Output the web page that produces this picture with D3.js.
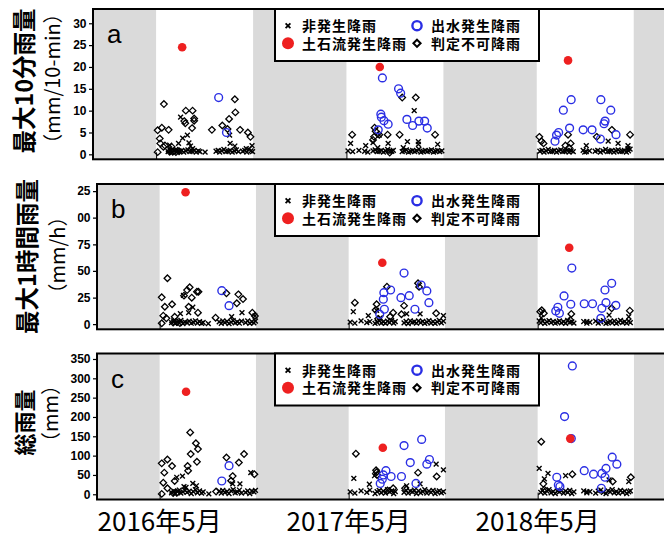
<!DOCTYPE html>
<html>
<head>
<meta charset="utf-8">
<script src="https://cdn.jsdelivr.net/npm/d3@7"></script>
<style>
  body { margin: 0; background: #fff; }
  svg { display: block; }
</style>
</head>
<body>
<div id="chart"></div>
<script>
// ---------- data ----------
var xLabels = ["2016年5月", "2017年5月", "2018年5月"];
var xTickDates = ["2016-05-01", "2017-05-01", "2018-05-01"];
var seasonStart = ["2016-05-01", "2017-05-01", "2018-05-01"];
var seasonEnd = ["2016-11-03", "2017-11-03", "2018-11-03"];
var legendNames = ["非発生降雨", "出水発生降雨", "土石流発生降雨", "判定不可降雨"];

var ticksA = [0, 5, 10, 15, 20, 25, 30];
var ticksB = [0, 25, 50, 75, 100, 125];
var ticksC = [0, 50, 100, 150, 200, 250, 300, 350];

// small non-occurrence rains sitting on the zero line (same dates in all panels)
var bandDates = [
  "2016-05-24","2016-05-28","2016-05-31","2016-06-04","2016-06-08","2016-06-11","2016-06-15","2016-06-19","2016-06-23","2016-06-27",
  "2016-07-01","2016-07-05","2016-07-09","2016-07-13","2016-07-17","2016-07-21","2016-07-24",
  "2016-08-24","2016-08-28","2016-08-31","2016-09-04","2016-09-08","2016-09-12","2016-09-16","2016-09-20","2016-09-24","2016-09-28","2016-10-02","2016-10-06",
  "2016-10-14","2016-10-18","2016-10-22","2016-10-26","2016-10-30","2016-11-02",
  "2017-05-04","2017-05-13","2017-05-25","2017-06-05","2017-06-11","2017-06-21","2017-06-25","2017-06-29","2017-07-03","2017-07-07",
  "2017-07-11","2017-07-15","2017-07-19","2017-07-23","2017-07-27","2017-07-30",
  "2017-08-16","2017-08-20","2017-08-24","2017-08-28","2017-09-01","2017-09-05","2017-09-09","2017-09-13","2017-09-17","2017-09-21",
  "2017-09-25","2017-09-29","2017-10-03","2017-10-07","2017-10-11","2017-10-15","2017-10-19","2017-10-23","2017-10-27","2017-10-31",
  "2018-05-07","2018-05-11","2018-05-15","2018-05-19","2018-05-23","2018-05-27","2018-05-31","2018-06-04","2018-06-08","2018-06-12",
  "2018-06-16","2018-06-20","2018-06-24","2018-06-28","2018-07-02","2018-07-06","2018-07-10",
  "2018-07-29","2018-08-04","2018-08-10",
  "2018-08-21","2018-08-26","2018-08-31","2018-09-05","2018-09-10","2018-09-14","2018-09-18","2018-09-22","2018-09-26","2018-09-30",
  "2018-10-04","2018-10-08","2018-10-12","2018-10-16","2018-10-20","2018-10-24","2018-10-27"
];
var aBand = [
  0.6,0.9,0.5,0.8,1.1,0.6,0.7,0.9,0.5,0.8, 1.0,0.6,0.7,0.9,0.5,0.8,0.6,
  0.7,0.9,0.5,0.8,1.1,0.6,0.7,0.9,0.5,0.8,1.0,0.6, 0.7,0.9,0.5,1.2,0.8,0.6,
  0.8,0.6,0.9,0.7,0.5,0.8,1.0,0.6,0.7,0.9, 0.5,0.8,1.1,0.6,0.7,0.9,
  0.6,0.8,1.0,0.5,0.7,0.9,0.6,0.8,1.2,0.5, 0.7,0.9,0.6,0.8,1.0,0.5,0.7,0.9,0.6,0.8,
  0.7,0.9,0.5,0.8,1.1,0.6,0.7,0.9,0.5,0.8, 1.0,0.6,0.7,0.9,0.5,0.8,0.6, 0.9,0.6,0.8,
  0.7,0.9,0.5,0.8,1.1,0.6,0.7,0.9,0.5,0.8, 1.0,0.6,0.7,0.9,0.5,0.8,1.2
];
var bBand = [
  1.5,3.0,0.8,2.2,1.2,3.5,0.6,2.0,1.4,2.8, 0.9,1.8,3.2,1.1,2.4,0.7,1.6,
  2.2,0.8,3.0,1.4,2.6,0.6,1.9,3.4,1.2,2.1,0.9,2.8, 1.5,3.1,0.7,2.3,1.3,2.9,
  2.0,0.9,3.1,1.4,2.5,0.7,1.8,3.4,1.1,2.2, 0.8,2.9,1.5,3.6,1.0,2.4,
  1.2,2.7,0.6,3.2,1.7,2.3,0.9,3.0,1.4,2.6, 0.7,1.9,3.3,1.1,2.5,0.8,2.1,3.5,1.3,2.8,
  1.2,2.8,0.7,2.1,3.4,1.5,2.6,0.9,1.9,3.1, 1.3,2.4,0.8,3.6,1.7,2.2,1.0, 2.5,0.9,1.8,
  2.9,1.1,2.3,3.3,0.8,1.6,2.7,1.2,3.0,0.7, 2.0,3.5,1.4,2.4,0.9,2.8,1.5
];
var cBand = [
  4,9,2,7,11,3,6,10,5,8, 2,7,12,4,9,3,6,
  8,3,10,5,7,2,9,12,4,6,11,3, 5,9,2,8,6,10,
  6,3,9,5,11,2,7,10,4,8, 3,12,6,9,2,7,
  5,10,3,8,6,11,2,9,4,7, 12,3,8,5,10,2,6,9,4,7,
  5,10,3,8,12,4,7,2,9,6, 11,3,8,5,10,2,6, 9,4,7,
  3,8,11,5,2,9,6,12,4,7, 3,10,5,8,2,6,9
];

// (a) 最大10分雨量 mm/10-min
var aDebris = [["2016-06-20",24.5],["2017-07-04",20.0],["2018-06-30",21.5]];
var aFlood = [
  ["2016-08-29",13.0],["2016-09-13",5.0],
  ["2017-07-09",17.5],["2017-08-09",15.0],["2017-08-13",14.0],["2017-07-06",9.2],["2017-07-07",8.5],["2017-07-12",7.7],
  ["2017-07-20",6.9],["2017-07-01",5.6],["2017-08-25",8.0],["2017-09-05",6.6],["2017-09-17",7.6],["2017-09-28",7.6],["2017-10-03",6.0],
  ["2018-07-06",12.5],["2018-06-21",10.1],["2018-07-03",6.0],["2018-06-12",5.0],["2018-06-08",4.4],["2018-06-05",3.0],["2018-07-29",5.6],
  ["2018-08-15",5.6],["2018-09-01",12.5],["2018-09-20",10.1],["2018-09-09",7.6],["2018-09-07",7.0],["2018-09-30",4.5],["2018-08-31",3.5]
];
var aUnknown = [
  ["2016-05-04",0.5],["2016-05-04",5.5],["2016-05-12",6.1],["2016-05-25",5.6],["2016-05-16",11.5],["2016-05-08",3.6],["2016-05-09",2.5],
  ["2016-05-15",1.7],["2016-05-31",1.7],["2016-05-18",2.0],["2016-06-27",10.0],["2016-07-10",10.0],["2016-06-24",7.6],["2016-06-26",7.1],
  ["2016-07-13",8.2],["2016-07-13",7.7],["2016-07-09",6.0],["2016-08-16",5.6],["2016-09-05",6.6],["2016-09-29",12.6],["2016-09-30",9.6],
  ["2016-09-18",8.1],["2016-10-09",5.6],["2016-09-15",5.8],["2016-10-24",5.0],["2016-10-29",4.0],["2016-05-27",0.6],["2016-05-29",0.8],
  ["2016-06-02",0.6],["2016-06-08",0.5],["2016-06-14",0.7],
  ["2017-08-16",13.0],["2017-09-11",13.0],["2017-06-24",6.1],["2017-06-26",5.3],["2017-05-12",4.5],["2017-07-19",4.5],["2017-08-11",4.5],
  ["2017-10-18",4.5],["2017-06-23",4.0],["2017-06-21",3.3],["2017-07-03",4.5],["2017-07-23",0.4],
  ["2018-05-06",4.0],["2018-05-14",2.5],["2018-05-10",3.0],["2018-06-30",4.5],["2018-07-05",2.5],["2018-06-25",2.0],["2018-07-02",1.5],
  ["2018-09-22",5.6],["2018-08-24",4.0],["2018-10-27",4.5]
];
var aNon = [
  ["2016-06-17",8.5],["2016-06-21",3.7],["2016-06-30",4.4],["2016-06-13",2.5],["2016-05-27",2.1],["2016-07-06",1.9],["2016-07-03",2.6],
  ["2016-07-10",1.3],["2016-08-03",0.5],["2016-09-19",4.4],["2016-09-20",2.5],["2016-09-29",1.9],["2016-11-01",2.0],["2016-10-21",1.3],
  ["2017-09-08",10.0],["2017-05-09",2.5],["2017-06-07",2.0],["2017-06-21",2.7],["2017-07-20",2.5],["2017-08-26",2.9],["2017-09-16",2.9],
  ["2017-09-16",2.3],["2017-10-23",2.3],["2017-06-30",1.5],["2017-08-18",1.5],["2017-07-03",4.4],
  ["2018-08-04",2.0],["2018-09-15",3.0],["2018-10-23",2.0],["2018-10-23",1.3],["2018-10-04",2.5],["2018-08-01",0.5]
];

// (b) 最大1時間雨量 mm/h
var bDebris = [["2016-06-20",123.8],["2017-07-05",57.7],["2018-07-01",71.8]];
var bFlood = [
  ["2016-08-29",31.5],["2016-09-12",17.4],
  ["2017-08-16",48],["2017-07-08",29.6],["2017-07-21",32.1],["2017-07-07",23.4],["2017-07-09",14],["2017-06-30",9.3],["2017-08-10",24.9],
  ["2017-08-26",26.8],["2017-09-18",36.8],["2017-09-29",31.2],["2017-10-03",20.2],["2017-09-06",14],
  ["2018-07-06",52.7],["2018-06-21",26.5],["2018-07-04",18.7],["2018-06-09",15.9],["2018-06-05",12.4],["2018-06-12",10.2],["2018-07-30",19.2],
  ["2018-08-15",19.2],["2018-09-21",38.4],["2018-09-08",32.1],["2018-09-10",20.2],["2018-09-29",17.7],["2018-09-02",14.9],["2018-08-31",5.5]
];
var bUnknown = [
  ["2016-05-16",43.1],["2016-05-05",25.2],["2016-05-11",16.4],["2016-05-25",18.7],["2016-05-08",8.0],["2016-05-14",5.5],["2016-05-05",0.8],
  ["2016-05-30",7],["2016-06-28",34.6],["2016-06-23",32],["2016-06-17",26.8],["2016-07-02",24.9],["2016-07-12",30.5],["2016-07-15",30.5],
  ["2016-06-26",16.4],["2016-07-14",10.8],["2016-08-17",6.1],["2016-09-07",29],["2016-09-30",28],["2016-10-09",23.6],["2016-09-27",19.6],
  ["2016-10-27",10.8],["2016-11-01",7.7],["2016-05-27",1.5],["2016-06-03",2],["2016-06-09",1],
  ["2017-05-13",20.2],["2017-06-24",18.7],["2017-06-22",13.3],["2017-07-14",35.2],["2017-07-26",10.8],["2017-08-16",17.4],["2017-09-12",38.4],
  ["2017-09-14",35],["2017-08-11",9.3],["2017-10-17",10.2],["2017-07-20",7],["2017-06-27",5],
  ["2018-05-06",11.7],["2018-05-13",10.2],["2018-05-09",13],["2018-07-05",9.6],["2018-09-21",14.9],["2018-10-26",12.7],["2018-07-03",4]
];
var bNon = [
  ["2016-07-04",15.9],["2016-06-26",10.8],["2016-06-16",27],["2016-06-10",10],["2016-08-03",0.5],["2016-09-17",7],["2016-10-07",10.8],
  ["2016-11-01",7.7],
  ["2017-05-10",11.7],["2017-08-21",9.6],["2017-09-16",9.6],["2017-06-08",8],["2017-10-31",8],["2017-06-24",13],["2017-07-01",6],
  ["2018-05-04",3],["2018-05-08",6],["2018-08-04",2.5],["2018-09-16",8.6],["2018-10-24",7]
];

// (c) 総雨量 mm
var cDebris = [["2016-06-21",265.4],["2017-07-06",120.5],["2018-07-03",144]];
var cFlood = [
  ["2016-08-29",34.4],["2016-09-12",74],
  ["2017-08-16",126],["2017-09-19",142],["2017-10-04",90],["2017-09-29",78],["2017-08-28",82],["2017-07-12",61],["2017-07-07",50],
  ["2017-07-22",46],["2017-08-11",46],["2017-07-05",39],["2017-07-01",28],["2017-09-08",28],
  ["2018-07-07",332],["2018-06-22",201],["2018-07-05",144],["2018-06-07",44],["2018-06-10",24],["2018-06-13",20],["2018-07-30",61],
  ["2018-08-17",52],["2018-09-22",96],["2018-10-01",78],["2018-09-10",67],["2018-09-02",54],["2018-09-08",44],["2018-09-01",15.5]
];
var cUnknown = [
  ["2016-05-05",80],["2016-05-16",90],["2016-05-10",56],["2016-05-25",73],["2016-05-08",30],["2016-05-16",15.5],["2016-05-05",1],
  ["2016-05-30",34.4],["2016-06-29",160],["2016-07-10",132],["2016-07-14",117],["2016-06-30",104],["2016-07-12",84],["2016-06-24",73],
  ["2016-06-25",61],["2016-08-18",7],["2016-09-07",95],["2016-10-11",104],["2016-10-01",82],["2016-09-19",47],["2016-10-31",52],
  ["2016-09-16",35],["2016-05-27",3],["2016-06-03",4],
  ["2017-05-15",105],["2017-06-24",57],["2017-06-25",50],["2017-06-23",62],["2017-09-12",56],["2017-10-18",46],["2017-07-26",15.5],
  ["2017-08-18",15.5],["2017-07-15",10],
  ["2018-05-08",136],["2018-07-07",52],["2018-09-23",33],["2018-10-28",44],["2018-05-12",27],["2018-05-14",12]
];
var cNon = [
  ["2016-06-14",47],["2016-06-03",44],["2016-06-17",20],["2016-07-04",28],["2016-07-11",22],["2016-09-19",27],["2016-10-24",56],
  ["2016-10-03",27],["2016-08-04",1],["2016-06-21",18],
  ["2017-05-11",41],["2017-06-10",26],["2017-10-17",78],["2017-10-31",63],["2017-09-16",27],["2017-08-21",22],["2017-06-20",48],
  ["2018-05-04",67],["2018-05-21",54],["2018-05-14",40],["2018-06-24",48],["2018-08-04",7],["2018-09-16",37],["2018-10-24",33]
];

// ---------- drawing ----------
var W = 664, H = 537;
var parse = d3.timeParse("%Y-%m-%d");
var BLUE = "#2a2ee4", RED = "#ee2020", GRAY = "#dadada";
var jp = "'Noto Sans CJK JP', 'Noto Sans', sans-serif";
var num = "'Liberation Sans', Arial, sans-serif";

function withBand(list, band) {
  return list.concat(bandDates.map(function (d, i) { return [d, band[i]]; }));
}

var panels = [
  { key: "a", left: 93, top: 9, bottom: 159.3, yDomain: [-1.14, 33.27], ticks: ticksA,
    title: "最大10分雨量", unit: "（mm/10-min）", titleX: 24, unitX: 52.5, titleY: 81, unitY: 78.5, titleSize: 23.5,
    non: withBand(aNon, aBand), flood: aFlood, debris: aDebris, unknown: aUnknown, clip: false },
  { key: "b", left: 97, top: 184, bottom: 329.3, yDomain: [-4.8, 131.6], ticks: ticksB,
    title: "最大1時間雨量", unit: "（mm/h）", titleX: 27, unitX: 57.5, titleY: 256.5, unitY: 255, titleSize: 23.5,
    non: withBand(bNon, bBand), flood: bFlood, debris: bDebris, unknown: bUnknown, clip: true },
  { key: "c", left: 97, top: 353.5, bottom: 499.5, yDomain: [-13.5, 364.2], ticks: ticksC,
    title: "総雨量", unit: "（mm）", titleX: 24.5, unitX: 50, titleY: 422.5, unitY: 413.5, titleSize: 22,
    non: withBand(cNon, cBand), flood: cFlood, debris: cDebris, unknown: cUnknown, clip: false }
];

var svg = d3.select("#chart").append("svg")
  .attr("width", W).attr("height", H);

// the "1" of 125 / 100 is cut away in the original figure
svg.append("defs").append("clipPath").attr("id", "lblclip")
  .append("rect").attr("x", 77.5).attr("y", 0).attr("width", W).attr("height", H);

var crossPath = "M-2.4,-2.4L2.4,2.4M-2.4,2.4L2.4,-2.4";
function diamondPath(s) { return "M0," + (-s) + "L" + s + ",0L0," + s + "L" + (-s) + ",0Z"; }

panels.forEach(function (p) {
  var x = d3.scaleTime()
    .domain([new Date(2016, 0, 1), new Date(2019, 0, 1)])
    .range([p.left, W + 0.5]);
  var y = d3.scaleLinear().domain(p.yDomain).range([p.bottom, p.top]);
  p.x = x;

  var g = svg.append("g");

  // background: gray off-season, white May-Oct
  g.append("rect")
    .attr("x", p.left).attr("y", p.top)
    .attr("width", W + 2 - p.left).attr("height", p.bottom - p.top)
    .attr("fill", GRAY);
  g.selectAll(".season").data(seasonStart).enter().append("rect")
    .attr("x", function (d) { return x(parse(d)); })
    .attr("y", p.top)
    .attr("width", function (d, i) { return x(parse(seasonEnd[i])) - x(parse(d)); })
    .attr("height", p.bottom - p.top)
    .attr("fill", "#fff");

  // May ticks on the bottom edge
  g.append("g")
    .attr("transform", "translate(0," + p.bottom + ")")
    .call(d3.axisBottom(x).tickValues(xTickDates.map(parse)).tickSize(-7).tickFormat(""))
    .call(function (a) { a.select(".domain").remove(); a.selectAll("line").attr("stroke", "#000"); });

  // y axis
  var wrap = g.append("g");
  if (p.clip) wrap.attr("clip-path", "url(#lblclip)");
  var ya = wrap.append("g")
    .attr("transform", "translate(" + p.left + ",0)")
    .call(d3.axisLeft(y).tickValues(p.ticks).tickSize(4).tickPadding(2.5));
  ya.select(".domain").remove();
  ya.selectAll("line").attr("stroke", "#000").attr("stroke-width", 1.2);
  ya.selectAll("text")
    .attr("font-family", num).attr("font-weight", "bold").attr("font-size", 12).attr("fill", "#000");

  // marks
  g.selectAll(".non").data(p.non).enter().append("path")
    .attr("d", crossPath)
    .attr("transform", function (d) { return "translate(" + x(parse(d[0])) + "," + y(d[1]) + ")"; })
    .attr("stroke", "#000").attr("stroke-width", 1.4).attr("fill", "none");

  g.selectAll(".unk").data(p.unknown).enter().append("path")
    .attr("d", diamondPath(3.3))
    .attr("transform", function (d) { return "translate(" + x(parse(d[0])) + "," + y(d[1]) + ")"; })
    .attr("stroke", "#000").attr("stroke-width", 1.3).attr("fill", "none");

  g.selectAll(".flood").data(p.flood).enter().append("circle")
    .attr("cx", function (d) { return x(parse(d[0])); })
    .attr("cy", function (d) { return y(d[1]); })
    .attr("r", 3.9)
    .attr("fill", "none").attr("stroke", BLUE).attr("stroke-width", 1.4);

  g.selectAll(".debris").data(p.debris).enter().append("circle")
    .attr("cx", function (d) { return x(parse(d[0])); })
    .attr("cy", function (d) { return y(d[1]); })
    .attr("r", 4.3)
    .attr("fill", RED);

  // frame
  g.append("rect")
    .attr("x", p.left).attr("y", p.top)
    .attr("width", W + 4 - p.left).attr("height", p.bottom - p.top)
    .attr("fill", "none").attr("stroke", "#000").attr("stroke-width", 2);

  // panel letter
  g.append("text")
    .attr("x", p.left + 14).attr("y", p.top + 34)
    .attr("font-family", num).attr("font-size", 26).attr("fill", "#000")
    .text(p.key);

  // legend
  var lg = g.append("g").attr("transform", "translate(275," + p.top + ")");
  lg.append("rect").attr("width", 264).attr("height", 52)
    .attr("fill", "#fff").attr("stroke", "#000").attr("stroke-width", 2);
  var rows = [16.7, 34.3];
  var items = [
    { name: legendNames[0], mx: 13, tx: 27, row: 0, type: "non" },
    { name: legendNames[1], mx: 142, tx: 156, row: 0, type: "flood" },
    { name: legendNames[2], mx: 13, tx: 27, row: 1, type: "debris" },
    { name: legendNames[3], mx: 142, tx: 156, row: 1, type: "unknown" }
  ];
  items.forEach(function (it) {
    var cy = rows[it.row];
    if (it.type === "non") {
      lg.append("path").attr("d", crossPath)
        .attr("transform", "translate(" + it.mx + "," + cy + ")")
        .attr("stroke", "#000").attr("stroke-width", 1.8);
    } else if (it.type === "flood") {
      lg.append("circle").attr("cx", it.mx).attr("cy", cy).attr("r", 4.6)
        .attr("fill", "none").attr("stroke", BLUE).attr("stroke-width", 2.4);
    } else if (it.type === "debris") {
      lg.append("circle").attr("cx", it.mx).attr("cy", cy).attr("r", 6).attr("fill", RED);
    } else {
      lg.append("path").attr("d", diamondPath(3.6))
        .attr("transform", "translate(" + it.mx + "," + cy + ")")
        .attr("stroke", "#000").attr("stroke-width", 2).attr("fill", "none");
    }
    lg.append("text")
      .attr("x", it.tx).attr("y", cy).attr("dy", "0.38em")
      .attr("font-family", jp).attr("font-weight", "bold").attr("font-size", 14)
      .attr("letter-spacing", 1).attr("fill", "#000")
      .text(it.name);
  });

  // y titles (rotated)
  svg.append("text")
    .attr("transform", "translate(" + p.titleX + "," + p.titleY + ") rotate(-90)")
    .attr("text-anchor", "middle").attr("dy", "0.38em")
    .attr("font-family", jp).attr("font-weight", "bold").attr("font-size", p.titleSize)
    .attr("fill", "#000")
    .text(p.title);
  svg.append("text")
    .attr("transform", "translate(" + p.unitX + "," + p.unitY + ") rotate(-90)")
    .attr("text-anchor", "middle").attr("dy", "0.38em")
    .attr("font-family", jp).attr("font-size", 20).attr("fill", "#000")
    .text(p.unit);
});

// bottom date labels (use lower panel's time scale)
var xc = panels[2].x;
svg.selectAll(".xlab").data(xLabels).enter().append("text")
  .attr("x", function (d, i) { return xc(parse(xTickDates[i])); })
  .attr("y", 531)
  .attr("text-anchor", "middle")
  .attr("font-family", jp).attr("font-size", 26).attr("fill", "#000")
  .text(function (d) { return d; });
</script>
</body>
</html>
